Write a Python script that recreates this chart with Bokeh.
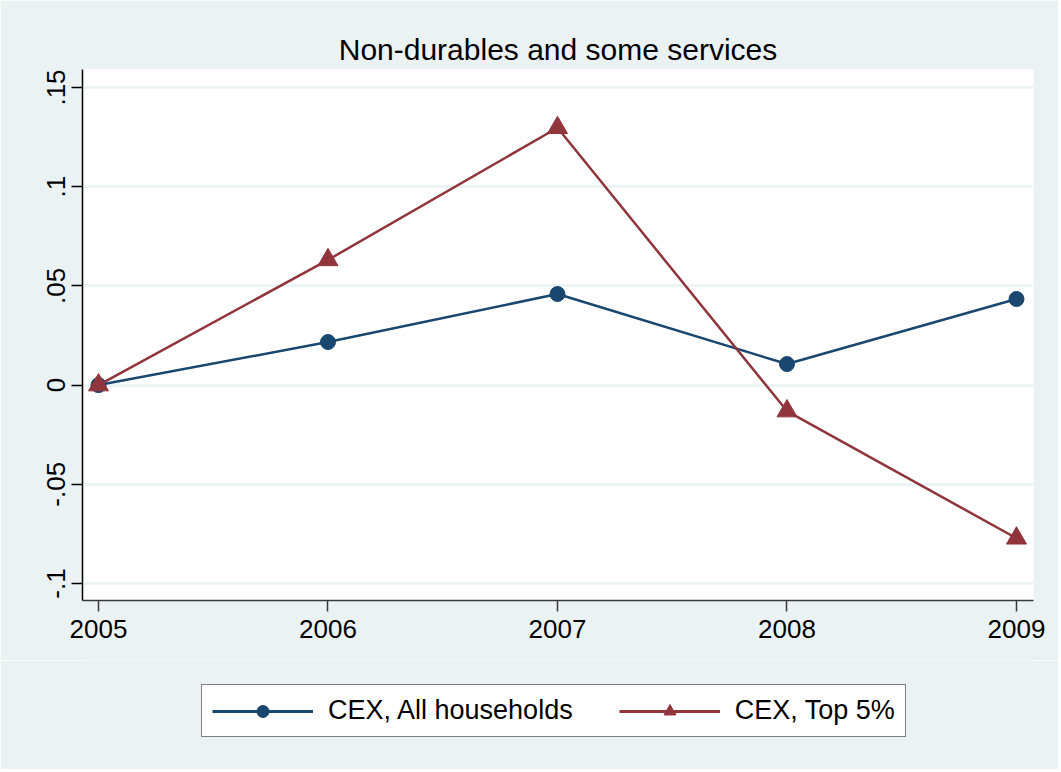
import math
from bokeh.plotting import figure
from bokeh.layouts import column
from bokeh.models import Range1d, FixedTicker, Legend, LegendItem
from bokeh.embed import file_html
from bokeh.resources import INLINE

# ---- data ----
years = [2005, 2006, 2007, 2008, 2009]
all_households = [0.0, 0.0217, 0.0459, 0.0106, 0.0434]
top5 = [0.0, 0.0631, 0.1297, -0.0131, -0.0772]
series_names = ["CEX, All households", "CEX, Top 5%"]
y_ticks = [-0.1, -0.05, 0.0, 0.05, 0.1, 0.15]
y_tick_labels = ["-.1", "-.05", "0", ".05", ".1", ".15"]
title_text = "Non-durables and some services"

BG = "#EAF2F3"
BLUE = "#1A476F"
RED = "#90353B"
FONT = "Liberation Sans"
W = 1058

p = figure(width=W, height=660, output_backend="svg", toolbar_location=None,
           x_range=Range1d(2004.9303, 2009.0741), y_range=Range1d(-0.10857, 0.15907),
           min_border_left=82, min_border_right=25, min_border_top=69, min_border_bottom=60)
p.border_fill_color = BG
p.background_fill_color = "white"
p.outline_line_color = None

p.title.text = title_text
p.title.align = "center"
p.title.text_font = FONT
p.title.text_font_size = "30px"
p.title.text_font_style = "normal"
p.title.text_color = "black"
p.title.standoff = 8

# axes
p.xaxis.ticker = FixedTicker(ticks=years)
p.xaxis.major_label_overrides = {y: str(y) for y in years}
p.yaxis.ticker = FixedTicker(ticks=y_ticks)
p.yaxis.major_label_overrides = {t: l for t, l in zip(y_ticks, y_tick_labels)}
p.yaxis.major_label_orientation = "vertical"
for ax in (p.xaxis, p.yaxis):
    ax.major_label_text_font = FONT
    ax.major_label_text_font_size = "26px"
    ax.major_label_text_color = "black"
    ax.major_tick_out = 11
    ax.major_tick_in = 0
    ax.minor_tick_out = 0
    ax.minor_tick_in = 0
    ax.axis_line_width = 1.5
    ax.major_tick_line_width = 1.5
p.xaxis.axis_line_color = "#3a3a3a"
p.xaxis.major_tick_line_color = "#3a3a3a"
p.yaxis.axis_line_color = "black"
p.yaxis.major_tick_line_color = "black"
p.xaxis.major_label_standoff = 8
p.yaxis.major_label_standoff = 6

p.xgrid.grid_line_color = None
p.ygrid.grid_line_color = BG
p.ygrid.grid_line_width = 2.5

# series
p.line(years, all_households, line_color=BLUE, line_width=2.5)
p.scatter(years, all_households, marker="circle", size=15, fill_color=BLUE, line_color=BLUE)
p.line(years, top5, line_color=RED, line_width=2.5)
p.scatter(years, top5, marker="triangle", size=20, fill_color=RED, line_color=RED)

# legend strip (separate figure so the legend is not clipped by the plot frame)
lg = figure(width=W, height=109, output_backend="svg", toolbar_location=None,
            x_range=Range1d(0, 1), y_range=Range1d(0, 1),
            x_axis_location=None, y_axis_location=None,
            min_border_left=0, min_border_right=0, min_border_top=0, min_border_bottom=0)
lg.grid.visible = False
lg.outline_line_color = None
lg.border_fill_color = BG
lg.background_fill_color = BG
# off-screen proxies that only carry the legend styling
off = [-10, -9]
dl1 = lg.line(off, off, line_color=BLUE, line_width=3)
ds1 = lg.scatter(off, off, marker="circle", size=14, fill_color=BLUE, line_color=BLUE)
dl2 = lg.line(off, off, line_color=RED, line_width=3)
ds2 = lg.scatter(off, off, marker="triangle", size=17, fill_color=RED, line_color=RED)

# the column aligns this frame's left edge with the chart frame (x = 82)
legend = Legend(items=[LegendItem(label=series_names[0], renderers=[dl1, ds1]),
                       LegendItem(label=series_names[1], renderers=[dl2, ds2])],
                orientation="horizontal", location=(119, 32))
legend.label_text_font = FONT
legend.label_text_font_size = "27px"
legend.label_text_color = "black"
legend.glyph_width = 101
legend.glyph_height = 30
legend.label_standoff = 15
legend.spacing = 46
legend.padding = 10
legend.margin = 0
legend.border_line_color = "black"
legend.border_line_width = 1.5
legend.background_fill_color = "white"
legend.background_fill_alpha = 1.0
lg.add_layout(legend, "center")

layout = column(p, lg, spacing=0)
open("out.html", "w").write(file_html(layout, INLINE))
